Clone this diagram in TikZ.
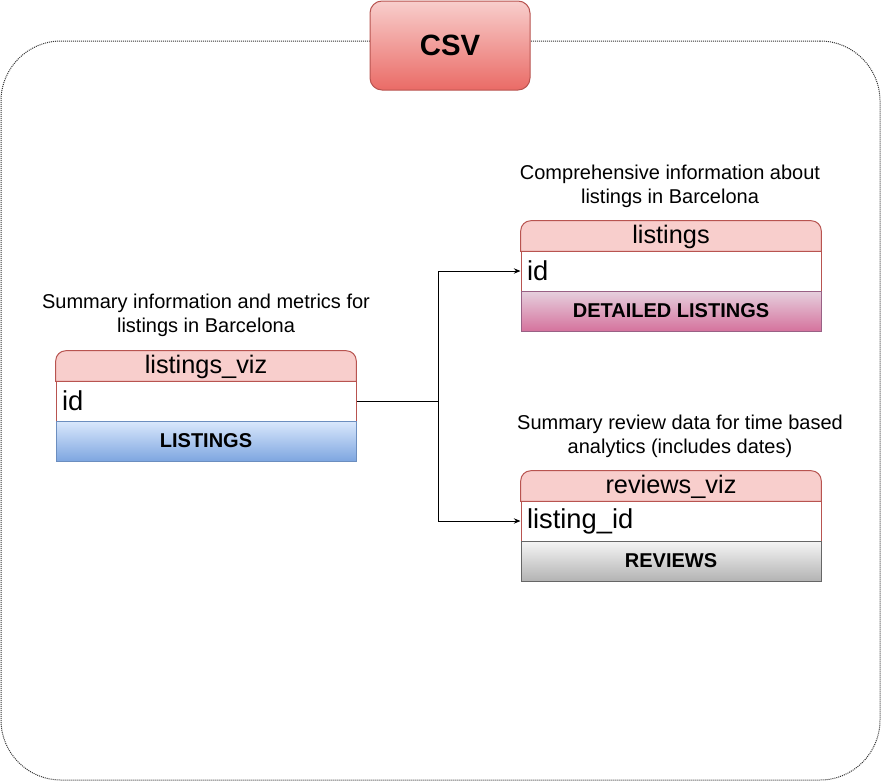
\documentclass[tikz,border=0pt]{standalone}
\usepackage{fontspec}
\setmainfont{Liberation Sans}
\usetikzlibrary{arrows.meta}
\pgfdeclarelayer{background}
\pgfsetlayers{background,main}
\definecolor{redline}{HTML}{B85450}
\definecolor{redfill}{HTML}{F8CECC}
\definecolor{redtop}{HTML}{F8CECC}
\definecolor{redbot}{HTML}{EA6B66}
\definecolor{bluetop}{HTML}{DAE8FC}
\definecolor{bluebot}{HTML}{7EA6E0}
\definecolor{blueline}{HTML}{6C8EBF}
\definecolor{pinktop}{HTML}{E6D0DE}
\definecolor{pinkbot}{HTML}{D5739D}
\definecolor{pinkline}{HTML}{996185}
\definecolor{graytop}{HTML}{F5F5F5}
\definecolor{graybot}{HTML}{B3B3B3}
\definecolor{grayline}{HTML}{666666}
\tikzset{
  px/.style={x=0.75pt,y=-0.75pt},
  tbhead/.style={minimum width=225pt,minimum height=22.5pt,inner sep=0pt,font=\fontsize{19}{22}\selectfont},
  tbrow/.style={draw=redline,fill=white,line width=0.75pt,minimum width=225pt,minimum height=30pt,inner sep=0pt,
    text width=216pt,align=left,font=\fontsize{20.5}{23}\selectfont},
  tbfoot/.style={line width=0.75pt,minimum width=225pt,minimum height=30pt,inner sep=0pt,font=\bfseries\fontsize{15}{18}\selectfont},
  hdrshape/.style={fill=redfill,draw=redline,line width=0.75pt},
  note/.style={align=center,font=\fontsize{15}{18}\selectfont,inner sep=0pt},
  conn/.style={line width=0.75pt,-{Stealth[length=5pt,width=4pt]}},
  connplain/.style={line width=0.75pt},
}
\begin{document}
\begin{tikzpicture}[px]
\useasboundingbox (0,0) rectangle (882,782);
% outer frame
\node (frame) [draw=black!80,line width=0.75pt,dash pattern=on 0.75pt off 0.75pt,rounded corners=45pt,
  minimum width=659.25pt,minimum height=554.25pt,inner sep=0pt] at (440.5,410.5) {};
% CSV
\node (csv) [draw=redline,top color=redtop,bottom color=redbot,line width=0.75pt,rounded corners=9pt,
  minimum width=120pt,minimum height=66.75pt,inner sep=0pt,font=\bfseries\fontsize{22}{26}\selectfont] at (450,45.5) {CSV};

% labels
\node (lvnote) [note] at (206,315) {Summary information and metrics for\\listings in Barcelona};
\node (ldnote) [note] at (670,186) {Comprehensive information about\\listings in Barcelona};
\node (rvnote) [note] at (680,436) {Summary review data for time based\\analytics (includes dates)};

% listings_viz table
\node (lvh) [tbhead] at (206,367) {listings\_viz};
\node (lvr) [tbrow] at (206,401) {id};
\node (lvf) [tbfoot,draw=blueline,top color=bluetop,bottom color=bluebot] at (206,441) {LISTINGS};

% listings table
\node (ldh) [tbhead] at (671,237) {listings};
\node (ldr) [tbrow] at (671,271) {id};
\node (ldf) [tbfoot,draw=pinkline,top color=pinktop,bottom color=pinkbot] at (671,311) {DETAILED LISTINGS};

% reviews_viz table
\node (rvh) [tbhead] at (671,487) {reviews\_viz};
\node (rvr) [tbrow] at (671,521) {listing\_id};
\node (rvf) [tbfoot,draw=grayline,top color=graytop,bottom color=graybot] at (671,561) {REVIEWS};

\begin{pgfonlayer}{background}
\foreach \h in {lvh,ldh,rvh}{
  \draw[hdrshape] ([yshift=0.75pt]\h.south west) {[rounded corners=7.5pt] -- ([yshift=0.75pt]\h.north west) -- ([yshift=0.75pt]\h.north east)} -- ([yshift=0.75pt]\h.south east) -- cycle;
}
\end{pgfonlayer}

% connectors
\coordinate (j) at (438,401);
\draw[connplain] (lvr.east) -- (j);
\draw[conn] (j) |- (ldr.west);
\draw[conn] (j) |- (rvr.west);
\end{tikzpicture}
\end{document}
